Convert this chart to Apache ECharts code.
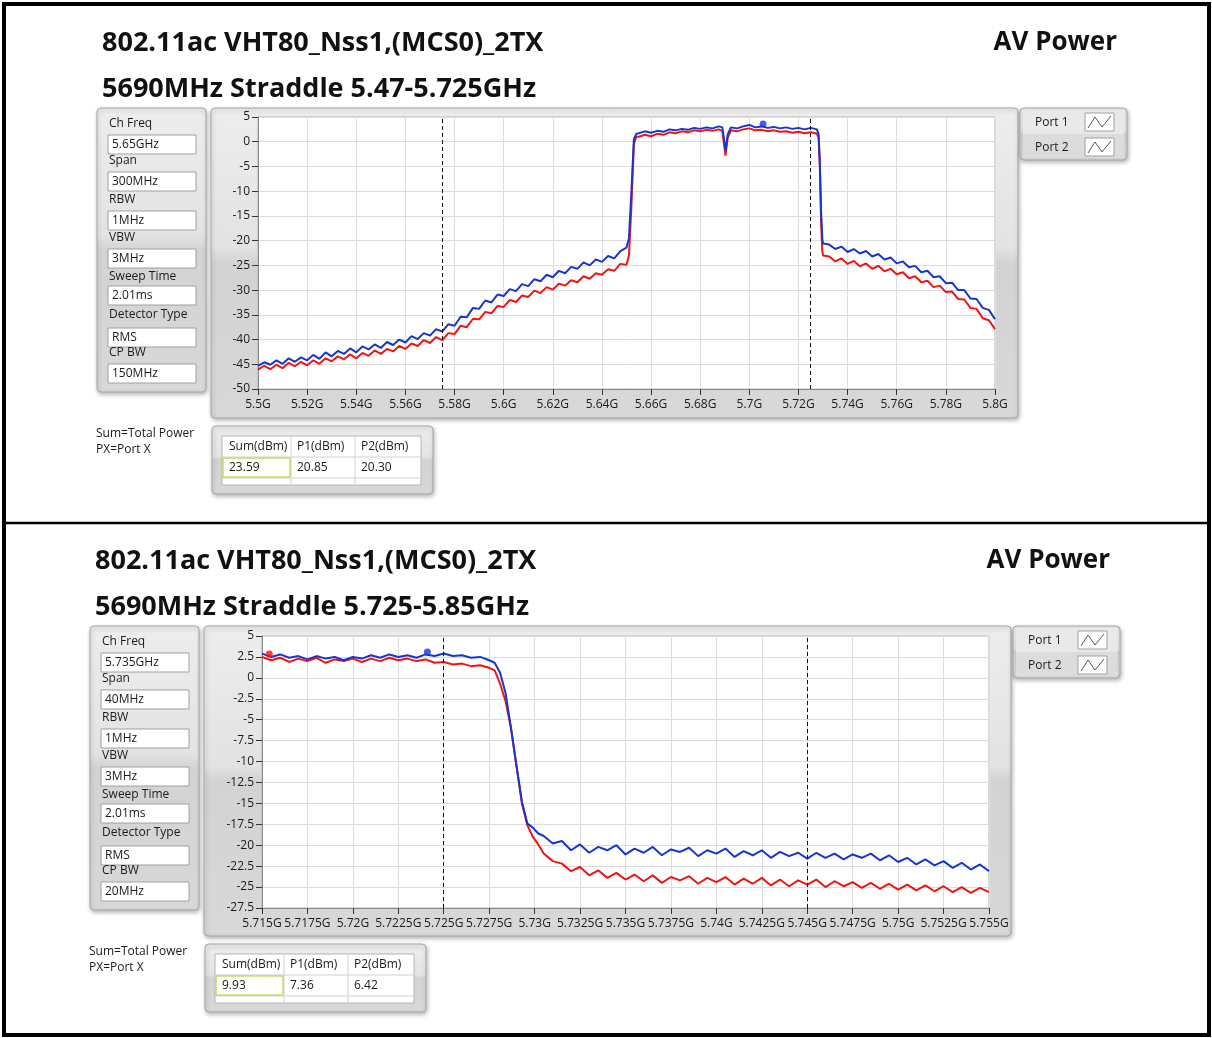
<!DOCTYPE html>
<html><head><meta charset="utf-8">
<script src="https://cdn.jsdelivr.net/npm/echarts@6/dist/echarts.min.js"></script>
<style>html,body{margin:0;padding:0;background:#fff}#c{width:1212px;height:1038px}</style>
</head><body><div id="c"></div>
<script>
// ---------------- DATA ----------------
const titleText = '802.11ac VHT80_Nss1,(MCS0)_2TX';
const modeText = 'AV Power';
const topSubtitle = '5690MHz Straddle 5.47-5.725GHz';
const bottomSubtitle = '5690MHz Straddle 5.725-5.85GHz';
const paramLabels = ['Ch Freq','Span','RBW','VBW','Sweep Time','Detector Type','CP BW'];
const topParamValues = ['5.65GHz','300MHz','1MHz','3MHz','2.01ms','RMS','150MHz'];
const bottomParamValues = ['5.735GHz','40MHz','1MHz','3MHz','2.01ms','RMS','20MHz'];
const legendNames = ['Port 1','Port 2'];
const noteLines = ['Sum=Total Power','PX=Port X'];
const tableHeaders = ['Sum(dBm)','P1(dBm)','P2(dBm)'];
const topTableValues = ['23.59','20.85','20.30'];
const bottomTableValues = ['9.93','7.36','6.42'];

const topXLabels = ['5.5G','5.52G','5.54G','5.56G','5.58G','5.6G','5.62G','5.64G','5.66G','5.68G','5.7G','5.72G','5.74G','5.76G','5.78G','5.8G'];
const bottomXLabels = ['5.715G','5.7175G','5.72G','5.7225G','5.725G','5.7275G','5.73G','5.7325G','5.735G','5.7375G','5.74G','5.7425G','5.745G','5.7475G','5.75G','5.7525G','5.755G'];
const topCursorX = [5.575, 5.725];
const bottomCursorX = [5.725, 5.745];

const topFreq = [
 5.5000,5.5025,5.5050,5.5075,5.5100,5.5125,5.5150,5.5175,5.5200,5.5225,5.5250,5.5275,5.5300,5.5325,5.5350,5.5375,5.5400,5.5425,5.5450,5.5475,
 5.5500,5.5525,5.5550,5.5575,5.5600,5.5625,5.5650,5.5675,5.5700,5.5725,5.5750,5.5775,5.5800,5.5825,5.5850,5.5875,5.5900,5.5925,5.5950,5.5975,
 5.6000,5.6025,5.6050,5.6075,5.6100,5.6125,5.6150,5.6175,5.6200,5.6225,5.6250,5.6275,5.6300,5.6325,5.6350,5.6375,5.6400,5.6425,5.6450,5.6475,5.6500,
 5.6510,5.6520,5.6530,5.6540,
 5.6550,5.6575,5.6600,5.6625,5.6650,5.6675,5.6700,5.6725,5.6750,5.6775,5.6800,5.6825,5.6850,5.6875,5.6890,5.6897,5.6903,5.6912,
 5.6925,5.6950,5.6975,5.7000,5.7025,5.7050,5.7075,5.7100,5.7125,5.7150,5.7175,5.7200,5.7225,5.7250,5.7275,
 5.7282,5.7287,5.7292,5.7297,5.7300,
 5.7325,5.7350,5.7375,5.7400,5.7425,5.7450,5.7475,5.7500,5.7525,5.7550,5.7575,5.7600,5.7625,5.7650,5.7675,5.7700,5.7725,5.7750,5.7775,5.7800,
 5.7825,5.7850,5.7875,5.7900,5.7925,5.7950,5.7975,5.8000
];
const topPort1 = [
 -45.3,-44.6,-45.1,-44.2,-44.9,-43.8,-44.5,-43.6,-44.2,-43.1,-43.9,-42.6,-43.4,-42.3,-42.9,-41.8,-42.6,-41.4,-42.0,-41.0,
 -41.7,-40.5,-41.1,-40.0,-40.6,-39.3,-39.9,-38.7,-39.2,-37.9,-38.4,-36.9,-37.2,-35.4,-35.5,-33.6,-33.8,-32.1,-32.5,-30.9,
 -31.2,-29.8,-30.2,-28.8,-29.2,-27.8,-28.2,-26.9,-27.4,-26.1,-26.6,-25.3,-25.7,-24.4,-25.0,-23.8,-24.3,-23.1,-23.6,-22.1,-21.4,
 -19.5,-10.0,0.5,1.6,
 1.7,2.1,1.8,2.2,2.0,2.5,2.3,2.6,2.4,2.8,2.6,2.9,2.7,3.1,2.9,0.5,-1.8,1.5,
 2.9,2.7,3.1,3.4,2.9,3.1,2.8,3.0,2.7,2.9,2.6,2.8,2.5,2.8,2.5,
 1.5,-4.0,-14.0,-19.5,-20.6,
 -20.8,-21.7,-21.2,-22.3,-21.7,-22.6,-22.1,-23.2,-22.7,-23.8,-23.4,-24.6,-24.2,-25.4,-25.1,-26.4,-26.1,-27.4,-27.2,-28.6,
 -28.5,-30.0,-30.0,-31.7,-31.8,-33.6,-34.0,-35.9
];
const topPort2 = [
 -46.1,-45.3,-46.0,-45.1,-45.8,-44.7,-45.4,-44.5,-45.2,-44.2,-44.9,-43.8,-44.4,-43.4,-44.0,-43.0,-43.8,-42.7,-43.3,-42.2,
 -42.9,-41.9,-42.4,-41.3,-41.9,-40.8,-41.3,-40.1,-40.7,-39.5,-40.1,-38.7,-38.9,-37.2,-37.5,-35.8,-35.9,-34.4,-34.7,-33.2,
 -33.4,-32.0,-32.4,-31.1,-31.4,-30.1,-30.6,-29.4,-29.9,-28.7,-29.1,-28.0,-28.4,-27.2,-27.7,-26.6,-26.9,-25.8,-26.1,-24.7,-24.9,
 -23.0,-13.0,-0.5,1.0,
 1.0,1.4,1.1,1.6,1.4,1.9,1.7,2.1,1.9,2.3,2.1,2.4,2.2,2.5,2.2,-0.5,-2.8,0.8,
 2.3,2.1,2.5,2.7,2.3,2.4,2.1,2.3,2.0,2.1,1.8,2.0,1.7,1.9,1.6,
 0.8,-5.0,-16.0,-22.0,-23.0,
 -23.2,-24.2,-23.6,-24.7,-24.1,-25.2,-24.6,-25.7,-25.1,-26.2,-25.7,-26.8,-26.4,-27.6,-27.2,-28.4,-28.1,-29.4,-29.1,-30.4,
 -30.3,-31.8,-31.9,-33.6,-33.8,-35.7,-36.1,-37.9
];
const topMarkers1 = [[5.7056, 3.6]];

const bottomFreq = [
 5.7150,5.7155,5.7160,5.7165,5.7170,5.7175,5.7180,5.7185,5.7190,5.7195,5.7200,5.7205,5.7210,5.7215,5.7220,5.7225,5.7230,5.7235,5.7240,5.7245,
 5.7250,5.7255,5.7260,5.7265,5.7270,5.7275,
 5.7278,5.7281,5.7284,5.7287,5.7290,5.7293,5.7296,5.7299,5.7302,
 5.7305,5.7310,5.7315,5.7320,5.7325,5.7330,5.7335,5.7340,5.7345,5.7350,5.7355,5.7360,5.7365,5.7370,5.7375,5.7380,5.7385,5.7390,5.7395,5.7400,
 5.7405,5.7410,5.7415,5.7420,5.7425,5.7430,5.7435,5.7440,5.7445,5.7450,5.7455,5.7460,5.7465,5.7470,5.7475,5.7480,5.7485,5.7490,5.7495,5.7500,
 5.7505,5.7510,5.7515,5.7520,5.7525,5.7530,5.7535,5.7540,5.7545,5.7550
];
const bottomPort1 = [
 2.9,2.5,2.8,2.4,2.6,2.2,2.6,2.3,2.5,2.1,2.5,2.3,2.7,2.4,2.8,2.5,2.7,2.4,2.8,2.6,
 2.9,2.6,2.7,2.4,2.5,2.1,
 1.8,0.6,-1.8,-6.0,-10.5,-14.8,-17.4,-17.9,-18.6,
 -18.9,-19.8,-19.5,-20.6,-19.9,-20.9,-20.2,-20.6,-20.0,-21.1,-20.4,-20.9,-20.2,-21.2,-20.5,-20.8,-20.3,-21.3,-20.6,-21.0,
 -20.4,-21.4,-20.7,-21.2,-20.6,-21.5,-20.8,-21.3,-20.9,-21.6,-20.9,-21.5,-21.0,-21.7,-21.1,-21.5,-21.0,-21.8,-21.2,-22.0,
 -21.5,-22.3,-21.7,-22.4,-21.9,-22.7,-22.1,-22.9,-22.3,-23.1
];
const bottomPort2 = [
 2.5,2.1,2.4,1.9,2.3,2.0,2.4,1.8,2.2,2.0,2.3,1.9,2.3,2.0,2.4,2.1,2.3,2.0,2.2,1.8,
 1.9,1.6,1.7,1.4,1.5,1.2,
 0.9,-0.7,-2.8,-6.0,-10.5,-15.0,-17.6,-19.0,-19.9,
 -21.0,-21.9,-22.2,-23.1,-22.6,-23.6,-23.0,-23.9,-23.3,-24.1,-23.5,-24.3,-23.6,-24.5,-23.8,-24.2,-23.7,-24.6,-23.9,-24.4,
 -23.8,-24.7,-24.0,-24.6,-23.9,-24.8,-24.1,-24.9,-24.2,-24.7,-24.1,-25.0,-24.3,-24.9,-24.4,-25.1,-24.5,-25.2,-24.6,-25.3,
 -24.7,-25.4,-24.8,-25.5,-24.9,-25.6,-25.0,-25.7,-25.1,-25.6
];
const bottomMarkers1 = [[5.7241, 3.1]];
const bottomMarkers2 = [[5.7154, 2.85]];

// ---------------- LAYOUT / STYLE ----------------
const FONT = '"Open Sans", "Noto Sans", sans-serif';
const BLUE = '#1836cc';
const RED = '#ee1515';
const chart = echarts.init(document.getElementById('c'), null, {renderer: 'canvas'});

function txt(x, y, text, size, opt) {
  opt = opt || {};
  const align = opt.align || 'left';
  return {type: 'text', z: 50, silent: true, style: {
    text: text, x: x, y: y, fill: opt.fill || '#1a1a1a',
    font: (opt.weight || 'normal') + ' ' + size + 'px ' + FONT,
    textAlign: align, align: align, textVerticalAlign: 'middle', verticalAlign: 'middle'
  }};
}
function panelGrad() {
  return new echarts.graphic.LinearGradient(0, 0, 0, 1, [
    {offset: 0, color: '#ededed'}, {offset: 0.45, color: '#e3e3e3'},
    {offset: 0.5, color: '#d3d3d3'}, {offset: 1, color: '#d8d8d8'}
  ]);
}
function panel(x, y, w, h) {
  return {type: 'rect', z: -20, silent: true, shape: {x: x, y: y, width: w, height: h, r: 4},
    style: {fill: panelGrad(), stroke: '#a6a6a6', lineWidth: 1,
      shadowBlur: 4, shadowColor: 'rgba(0,0,0,0.28)', shadowOffsetX: 1, shadowOffsetY: 2}};
}
function box(x, y, w, h, stroke, lw, fill) {
  return {type: 'rect', z: -10, silent: true, shape: {x: x, y: y, width: w, height: h},
    style: {fill: fill === undefined ? '#fff' : fill, stroke: stroke || '#9c9c9c', lineWidth: lw || 1}};
}
function line(x1, y1, x2, y2, color, w) {
  return {type: 'line', z: -5, silent: true, shape: {x1: x1, y1: y1, x2: x2, y2: y2},
    style: {stroke: color, lineWidth: w || 1}};
}

const graphics = [];
// outer frame and divider
graphics.push({type: 'rect', z: 60, silent: true, shape: {x: 4, y: 4, width: 1205, height: 1031},
  style: {fill: 'none', stroke: '#000', lineWidth: 4}});
graphics.push({type: 'line', z: 60, silent: true, shape: {x1: 4, y1: 523, x2: 1209, y2: 523},
  style: {stroke: '#000', lineWidth: 2.5}});

function buildSection(dx, dy, subtitle, paramValues, tableValues, plot) {
  graphics.push(txt(102 + dx, 43 + dy, titleText, 27, {weight: 'bold', fill: '#111'}));
  graphics.push(txt(102 + dx, 89 + dy, subtitle, 27, {weight: 'bold', fill: '#111'}));
  graphics.push(txt(1117 + dx, 43 + dy, modeText, 26, {weight: 'bold', fill: '#111', align: 'right'}));

  // parameter panel
  graphics.push(panel(97 + dx, 108 + dy, 109, 284));
  const labY = [123, 160, 199, 237, 276, 314, 352];
  const boxY = [135, 172, 211, 249, 286, 328, 364];
  paramLabels.forEach(function (lab, i) {
    graphics.push(box(108 + dx, boxY[i] + dy, 88, 19, '#a0a0a0', 1));
    graphics.push(txt(109 + dx, labY[i] + 1 + dy, lab, 12));
    graphics.push(txt(112 + dx, boxY[i] + 10 + dy, paramValues[i], 12));
  });

  // plot panel and plot background
  graphics.push(panel(211 + dx, 108 + dy, 807, 310));
  graphics.push(box(plot.left, plot.top, plot.width, plot.height, '#b4b4b4', 1, '#ffffff'));

  // legend panel
  graphics.push(panel(1020 + dx, 108 + dy, 107, 52));
  graphics.push(box(1023 + dx, 110 + dy, 101, 24, 'none', 0, '#e9e9e9'));
  graphics.push(box(1023 + dx, 134 + dy, 101, 24, 'none', 0, '#dcdcdc'));
  legendNames.forEach(function (n, i) {
    const yy = 122 + i * 25 + dy;
    graphics.push(txt(1035 + dx, yy + 1, n, 12));
    graphics.push(box(1085 + dx, yy - 9, 29, 18, '#a0a0a0', 1));
    graphics.push({type: 'polyline', z: 40, silent: true,
      shape: {points: [[1088 + dx, yy + 6], [1095 + dx, yy - 5], [1102 + dx, yy + 5], [1111 + dx, yy - 6]]},
      style: {stroke: '#555', lineWidth: 1, fill: 'none'}});
  });

  // notes
  graphics.push(txt(96 + dx, 434 + dy, noteLines[0], 12));
  graphics.push(txt(96 + dx, 450 + dy, noteLines[1], 12));

  // table
  graphics.push(panel(212 + dx, 426 + dy, 221, 68));
  graphics.push(box(222 + dx, 436 + dy, 199, 49, '#b5b5b5', 1));
  graphics.push(line(222 + dx, 457 + dy, 421 + dx, 457 + dy, '#d0d0d0'));
  graphics.push(line(222 + dx, 478 + dy, 421 + dx, 478 + dy, '#d0d0d0'));
  graphics.push(line(291 + dx, 437 + dy, 291 + dx, 484 + dy, '#d0d0d0'));
  graphics.push(line(355 + dx, 437 + dy, 355 + dx, 484 + dy, '#d0d0d0'));
  graphics.push({type: 'rect', z: 30, silent: true, shape: {x: 223 + dx, y: 458 + dy, width: 67, height: 19},
    style: {fill: 'none', stroke: '#c9da6a', lineWidth: 1.5}});
  const colX = [229, 297, 361];
  tableHeaders.forEach(function (h, i) {
    graphics.push(txt(colX[i] + dx, 447 + dy, h, 12));
    graphics.push(txt(colX[i] + dx, 468 + dy, tableValues[i], 12));
  });
}

const topPlot = {left: 258, top: 117, width: 737, height: 272};
const bottomPlot = {left: 262, top: 636, width: 727, height: 272};
buildSection(0, 0, topSubtitle, topParamValues, topTableValues, topPlot);
buildSection(-7, 518, bottomSubtitle, bottomParamValues, bottomTableValues, bottomPlot);

function zip(xs, ys) { return xs.map(function (x, i) { return [x, ys[i]]; }); }

function xAxisCfg(gi, min, max, interval, labels) {
  return {gridIndex: gi, type: 'value', min: min, max: max, interval: interval,
    axisLine: {show: true, onZero: false, lineStyle: {color: '#8a8a8a', width: 1}},
    axisTick: {show: true, length: 6, lineStyle: {color: '#333'}},
    splitLine: {show: true, lineStyle: {color: '#dcdcdc', width: 1}},
    axisLabel: {color: '#1a1a1a', fontSize: 12, fontFamily: FONT, margin: 10,
      formatter: function (v) { return labels[Math.round((v - min) / interval)]; }}
  };
}
function yAxisCfg(gi, min, max, interval) {
  return {gridIndex: gi, type: 'value', min: min, max: max, interval: interval,
    axisLine: {show: true, onZero: false, lineStyle: {color: '#8a8a8a', width: 1}},
    axisTick: {show: true, length: 6, lineStyle: {color: '#333'}},
    splitLine: {show: true, lineStyle: {color: '#dcdcdc', width: 1}},
    axisLabel: {color: '#1a1a1a', fontSize: 12, fontFamily: FONT, margin: 8}
  };
}
function lineSeries(name, xi, data, color, z, cursors) {
  const s = {name: name, type: 'line', xAxisIndex: xi, yAxisIndex: xi, data: data,
    showSymbol: false, symbol: 'none', z: z, animation: false,
    lineStyle: {color: color, width: 2}, itemStyle: {color: color}};
  if (cursors) {
    s.markLine = {silent: true, symbol: ['none', 'none'], label: {show: false}, animation: false,
      precision: 6,
      lineStyle: {color: '#111', type: [4, 3], width: 1},
      data: cursors.map(function (c) { return {xAxis: c}; })};
  }
  return s;
}
function markerSeries(xi, data, color) {
  return {type: 'scatter', xAxisIndex: xi, yAxisIndex: xi, data: data, symbolSize: 7, z: 6,
    itemStyle: {color: color}, animation: false};
}

chart.setOption({
  animation: false,
  backgroundColor: '#ffffff',
  grid: [
    {left: topPlot.left, top: topPlot.top, width: topPlot.width, height: topPlot.height, show: false},
    {left: bottomPlot.left, top: bottomPlot.top, width: bottomPlot.width, height: bottomPlot.height, show: false}
  ],
  xAxis: [
    xAxisCfg(0, 5.5, 5.8, 0.02, topXLabels),
    xAxisCfg(1, 5.715, 5.755, 0.0025, bottomXLabels)
  ],
  yAxis: [
    yAxisCfg(0, -50, 5, 5),
    yAxisCfg(1, -27.5, 5, 2.5)
  ],
  series: [
    lineSeries('Port 2', 0, zip(topFreq, topPort2), RED, 3, topCursorX),
    lineSeries('Port 1', 0, zip(topFreq, topPort1), BLUE, 4),
    markerSeries(0, topMarkers1, BLUE),
    lineSeries('Port 2', 1, zip(bottomFreq, bottomPort2), RED, 3, bottomCursorX),
    lineSeries('Port 1', 1, zip(bottomFreq, bottomPort1), BLUE, 4),
    markerSeries(1, bottomMarkers1, BLUE),
    markerSeries(1, bottomMarkers2, RED)
  ],
  graphic: {elements: graphics}
});
</script>
</body></html>
